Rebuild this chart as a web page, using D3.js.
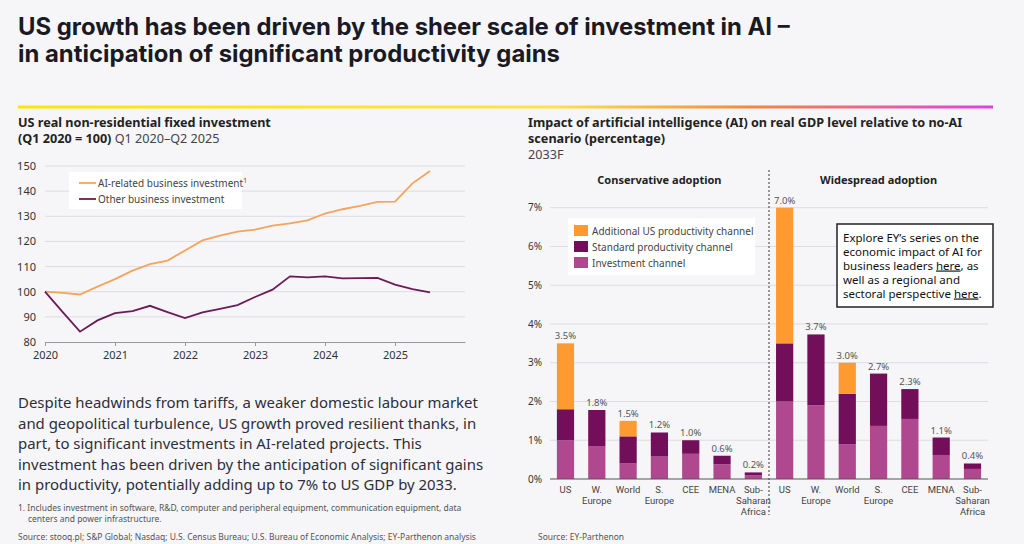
<!DOCTYPE html>
<html>
<head>
<meta charset="utf-8">
<script src="https://cdn.jsdelivr.net/npm/d3@7"></script>
<style>
  body { margin: 0; background: #f6f6f9; }
  svg { display: block; font-family: "Noto Sans", sans-serif; }
</style>
</head>
<body>
<div id="chart"></div>
<script>
// ---- data: left line chart (index, Q1 2020 = 100) ----
const quarters = ["2020-Q1","2020-Q2","2020-Q3","2020-Q4","2021-Q1","2021-Q2","2021-Q3","2021-Q4",
  "2022-Q1","2022-Q2","2022-Q3","2022-Q4","2023-Q1","2023-Q2","2023-Q3","2023-Q4",
  "2024-Q1","2024-Q2","2024-Q3","2024-Q4","2025-Q1","2025-Q2","2025-Q3"];
const aiInvestment = [100, 99.5, 98.9, 102, 105, 108.4, 111, 112.4, 116.4, 120.4, 122.3, 123.9,
  124.7, 126.3, 127.2, 128.4, 131.1, 132.8, 134.1, 135.7, 135.8, 143.1, 148];
const otherInvestment = [100, 92, 84.1, 88.6, 91.5, 92.3, 94.4, 91.9, 89.5, 91.8, 93.2, 94.7,
  97.9, 100.8, 106.1, 105.7, 106.1, 105.3, 105.4, 105.5, 102.8, 101, 99.7];
const yearTicks = [2020, 2021, 2022, 2023, 2024, 2025];
const indexTicks = [80, 90, 100, 110, 120, 130, 140, 150];

// ---- data: right stacked bars (% of GDP level, 2033F) ----
const regions = ["US", "W. Europe", "World", "S. Europe", "CEE", "MENA", "Sub-Saharan Africa"];
const regionLines = [["US"], ["W.", "Europe"], ["World"], ["S.", "Europe"], ["CEE"], ["MENA"], ["Sub-", "Saharan", "Africa"]];
const consInvestment = [1.0, 0.85, 0.4, 0.58, 0.65, 0.38, 0.10];
const consStandard   = [0.8, 0.93, 0.7, 0.62, 0.35, 0.22, 0.07];
const consAdditional = [1.7, 0, 0.4, 0, 0, 0, 0];
const wideInvestment = [2.0, 1.9, 0.9, 1.37, 1.55, 0.62, 0.26];
const wideStandard   = [1.5, 1.83, 1.3, 1.35, 0.77, 0.45, 0.14];
const wideAdditional = [3.5, 0, 0.8, 0, 0, 0, 0];
const pctTicks = [0, 1, 2, 3, 4, 5, 6, 7];
const channels = ["investment", "standard", "additional"];
const channelNames = { additional: "Additional US productivity channel", standard: "Standard productivity channel", investment: "Investment channel" };
const channelColors = { additional: "#ff9a30", standard: "#720e5a", investment: "#b0488f" };

const W = 1024, H = 544;
const svg = d3.select("#chart").append("svg").attr("width", W).attr("height", H);
svg.append("rect").attr("width", W).attr("height", H).attr("fill", "#f6f6f9");

// scale a text's font-size so it spans the target width
function fit(sel, target) {
  const w = sel.node().getComputedTextLength();
  const fs = parseFloat(sel.attr("font-size"));
  return fs * target / w;
}

// ---- title ----
const title = svg.append("g").attr("font-family", "Inter, sans-serif").attr("font-weight", 700).attr("fill", "#1a1a24");
const t1 = title.append("text").attr("x", 18).attr("y", 35).attr("font-size", 22)
  .text("US growth has been driven by the sheer scale of investment in AI –");
const t2 = title.append("text").attr("x", 18).attr("y", 62).attr("font-size", 22)
  .text("in anticipation of significant productivity gains");
const tfs = fit(t1, 772);
t1.attr("font-size", tfs); t2.attr("font-size", tfs);

// gradient rule
const grad = svg.append("defs").append("linearGradient").attr("id", "rule");
grad.append("stop").attr("offset", "0%").attr("stop-color", "#ffe600");
grad.append("stop").attr("offset", "55%").attr("stop-color", "#ffe14a");
grad.append("stop").attr("offset", "75%").attr("stop-color", "#f08a3c");
grad.append("stop").attr("offset", "100%").attr("stop-color", "#e040e4");
svg.append("rect").attr("x", 18).attr("y", 105.5).attr("width", 975).attr("height", 3).attr("fill", "url(#rule)");

// ---- subtitles ----
const subL = svg.append("text").attr("x", 18).attr("y", 127).attr("font-size", 13).attr("font-weight", 700).attr("fill", "#222")
  .text("US real non-residential fixed investment");
const sfs = fit(subL, 253);
subL.attr("font-size", sfs);
const subL2 = svg.append("text").attr("x", 18).attr("y", 143).attr("font-size", sfs).attr("fill", "#222");
subL2.append("tspan").attr("font-weight", 700).text("(Q1 2020 = 100)");
subL2.append("tspan").attr("fill", "#444").text(" Q1 2020–Q2 2025");

const subR = ["Impact of artificial intelligence (AI) on real GDP level relative to no-AI", "scenario (percentage)"];
subR.forEach((s, i) => svg.append("text").attr("x", 528).attr("y", 127 + i * 16).attr("font-size", sfs)
  .attr("font-weight", 700).attr("fill", "#222").text(s));
svg.append("text").attr("x", 528).attr("y", 159).attr("font-size", sfs).attr("fill", "#444").text("2033F");

// ---- left line chart ----
const x = d3.scaleLinear().domain([2020, 2026]).range([45, 465]);
const y = d3.scaleLinear().domain([80, 150]).range([342, 166]);
const qx = q => +q.slice(0, 4) + (+q.slice(6) - 1) / 4;

const left = svg.append("g");
left.append("g").selectAll("line").data(indexTicks.slice(1)).join("line")
  .attr("x1", 45).attr("x2", 465).attr("y1", d => y(d)).attr("y2", d => y(d))
  .attr("stroke", "#dcdce2").attr("stroke-width", 1);

left.append("g").attr("transform", `translate(0,${y(80)})`)
  .call(d3.axisBottom(x).tickValues(yearTicks).tickFormat(d3.format("d")).tickSize(4).tickSizeOuter(0))
  .call(g => g.select(".domain").attr("stroke", "#999"))
  .call(g => g.selectAll(".tick line").attr("stroke", "#999"))
  .call(g => g.selectAll("text").attr("font-size", 11).attr("fill", "#333").attr("font-family", "Noto Sans").attr("dy", "0.95em"));

left.append("g").attr("transform", "translate(36,0)")
  .call(d3.axisLeft(y).tickValues(indexTicks).tickSize(0))
  .call(g => g.select(".domain").remove())
  .call(g => g.selectAll("text").attr("font-size", 11).attr("fill", "#333").attr("font-family", "Noto Sans").attr("x", 0));

const line = d3.line().x((d, i) => x(qx(quarters[i]))).y(d => y(d));
left.append("path").datum(aiInvestment).attr("fill", "none").attr("stroke", "#f4a45c").attr("stroke-width", 1.8).attr("d", line);
left.append("path").datum(otherInvestment).attr("fill", "none").attr("stroke", "#6d1b58").attr("stroke-width", 1.8).attr("d", line);

// legend
const lg = left.append("g");
lg.append("rect").attr("x", 69).attr("y", 172).attr("width", 173).attr("height", 37).attr("fill", "#fff");
[["AI-related business investment", "#f4a45c", true], ["Other business investment", "#6d1b58", false]].forEach((d, i) => {
  const yy = 183 + i * 16;
  lg.append("line").attr("x1", 79).attr("x2", 96).attr("y1", yy).attr("y2", yy).attr("stroke", d[1]).attr("stroke-width", 1.8);
  const t = lg.append("text").attr("x", 98).attr("y", yy + 3.5).attr("font-size", 10).attr("fill", "#444").text(d[0]);
  if (d[2]) t.append("tspan").attr("font-size", 6.5).attr("dy", -4).text("1");
});

// ---- paragraph and notes ----
const para = ["Despite headwinds from tariffs, a weaker domestic labour market",
  "and geopolitical turbulence, US growth proved resilient thanks, in",
  "part, to significant investments in AI-related projects. This",
  "investment has been driven by the anticipation of significant gains",
  "in productivity, potentially adding up to 7% to US GDP by 2033."];
const pTexts = para.map((s, i) => svg.append("text").attr("x", 18).attr("y", 408 + i * 20.6)
  .attr("font-size", 15).attr("fill", "#2e2e38").text(s));
const pfs = fit(pTexts[0], 460);
pTexts.forEach(t => t.attr("font-size", pfs));

const fn1 = svg.append("text").attr("x", 18).attr("y", 511).attr("font-size", 8).attr("fill", "#555")
  .text("1.  Includes investment in software, R&D, computer and peripheral equipment, communication equipment, data");
const ffs = fit(fn1, 444);
fn1.attr("font-size", ffs);
svg.append("text").attr("x", 28).attr("y", 522).attr("font-size", ffs).attr("fill", "#555").text("centers and power infrastructure.");
svg.append("text").attr("x", 18).attr("y", 540).attr("font-size", ffs).attr("fill", "#555")
  .text("Source: stooq.pl; S&P Global; Nasdaq; U.S. Census Bureau; U.S. Bureau of Economic Analysis; EY-Parthenon  analysis");
svg.append("text").attr("x", 538).attr("y", 540).attr("font-size", ffs).attr("fill", "#555").text("Source: EY-Parthenon");

// ---- right stacked bar chart ----
const rows = [];
regions.forEach((r, i) => rows.push({ key: "c" + i, label: regionLines[i], investment: consInvestment[i], standard: consStandard[i], additional: consAdditional[i] }));
regions.forEach((r, i) => rows.push({ key: "w" + i, label: regionLines[i], investment: wideInvestment[i], standard: wideStandard[i], additional: wideAdditional[i] }));

const xb = d3.scaleBand().domain(rows.map(d => d.key)).range([550, 988]).paddingInner(0.45).paddingOuter(0.22);
const yb = d3.scaleLinear().domain([0, 7]).range([479, 207.7]);
const right = svg.append("g");

right.append("g").selectAll("line").data(pctTicks.slice(1)).join("line")
  .attr("x1", 550).attr("x2", 988).attr("y1", d => yb(d)).attr("y2", d => yb(d))
  .attr("stroke", "#dcdce2");
right.append("g").attr("transform", "translate(542,0)")
  .call(d3.axisLeft(yb).tickValues(pctTicks).tickFormat(d => d + "%").tickSize(0))
  .call(g => g.select(".domain").remove())
  .call(g => g.selectAll("text").attr("font-size", 10).attr("fill", "#333").attr("font-family", "Noto Sans").attr("x", 0));

const stacked = d3.stack().keys(channels)(rows);
right.append("g").selectAll("g").data(stacked).join("g").attr("fill", d => channelColors[d.key])
  .selectAll("rect").data(d => d).join("rect")
  .attr("x", d => xb(d.data.key)).attr("width", xb.bandwidth())
  .attr("y", d => yb(d[1])).attr("height", d => yb(d[0]) - yb(d[1]));

right.append("line").attr("x1", 550).attr("x2", 988).attr("y1", yb(0)).attr("y2", yb(0)).attr("stroke", "#555");

// totals
right.append("g").selectAll("text").data(rows).join("text")
  .attr("x", d => xb(d.key) + xb.bandwidth() / 2)
  .attr("y", d => yb(d.investment + d.standard + d.additional) - 4)
  .attr("text-anchor", "middle").attr("font-size", 9.5).attr("fill", "#555")
  .text(d => (d.investment + d.standard + d.additional).toFixed(1) + "%");

// category labels, one text per line
const labelLines = rows.flatMap(d => d.label.map((l, i) => ({ l, i, cx: xb(d.key) + xb.bandwidth() / 2 })));
right.append("g").selectAll("text").data(labelLines).join("text")
  .attr("x", d => d.cx).attr("y", d => 493 + d.i * 10.8)
  .attr("text-anchor", "middle").attr("font-family", "Roboto, sans-serif").attr("font-size", 9.5).attr("fill", "#444")
  .text(d => d.l);

// divider between scenarios
const divX = (xb("c6") + xb.bandwidth() + xb("w0")) / 2;
right.append("line").attr("x1", divX).attr("x2", divX).attr("y1", 170).attr("y2", 515)
  .attr("stroke", "#555").attr("stroke-width", 1.2).attr("stroke-dasharray", "2,2");

right.append("text").attr("x", (xb("c0") + xb("c6") + xb.bandwidth()) / 2).attr("y", 184)
  .attr("text-anchor", "middle").attr("font-size", 11).attr("font-weight", 700).attr("fill", "#222").text("Conservative adoption");
right.append("text").attr("x", (xb("w0") + xb("w6") + xb.bandwidth()) / 2).attr("y", 184)
  .attr("text-anchor", "middle").attr("font-size", 11).attr("font-weight", 700).attr("fill", "#222").text("Widespread adoption");

// legend
const rl = right.append("g");
rl.append("rect").attr("x", 568).attr("y", 218).attr("width", 187).attr("height", 57).attr("fill", "#fff");
["additional", "standard", "investment"].forEach((k, i) => {
  rl.append("rect").attr("x", 574).attr("y", 225 + i * 16).attr("width", 14).attr("height", 11).attr("fill", channelColors[k]);
  rl.append("text").attr("x", 592).attr("y", 234.5 + i * 16).attr("font-size", 10).attr("fill", "#444").text(channelNames[k]);
});

// info box
const ib = right.append("g");
ib.append("rect").attr("x", 837).attr("y", 224).attr("width", 156).attr("height", 83)
  .attr("fill", "#fff").attr("stroke", "#222").attr("stroke-width", 1.5);
const info = [[["Explore EY’s series on the"]], [["economic impact of AI for"]], [["business leaders "], ["here", true], [", as"]],
  [["well as a regional and"]], [["sectoral perspective "], ["here", true], ["."]]];
info.forEach((parts, i) => {
  const t = ib.append("text").attr("x", 843).attr("y", 241.5 + i * 14).attr("font-size", 11.5).attr("fill", "#111");
  parts.forEach(p => t.append("tspan").attr("text-decoration", p[1] ? "underline" : null).text(p[0]));
});
</script>
</body>
</html>
